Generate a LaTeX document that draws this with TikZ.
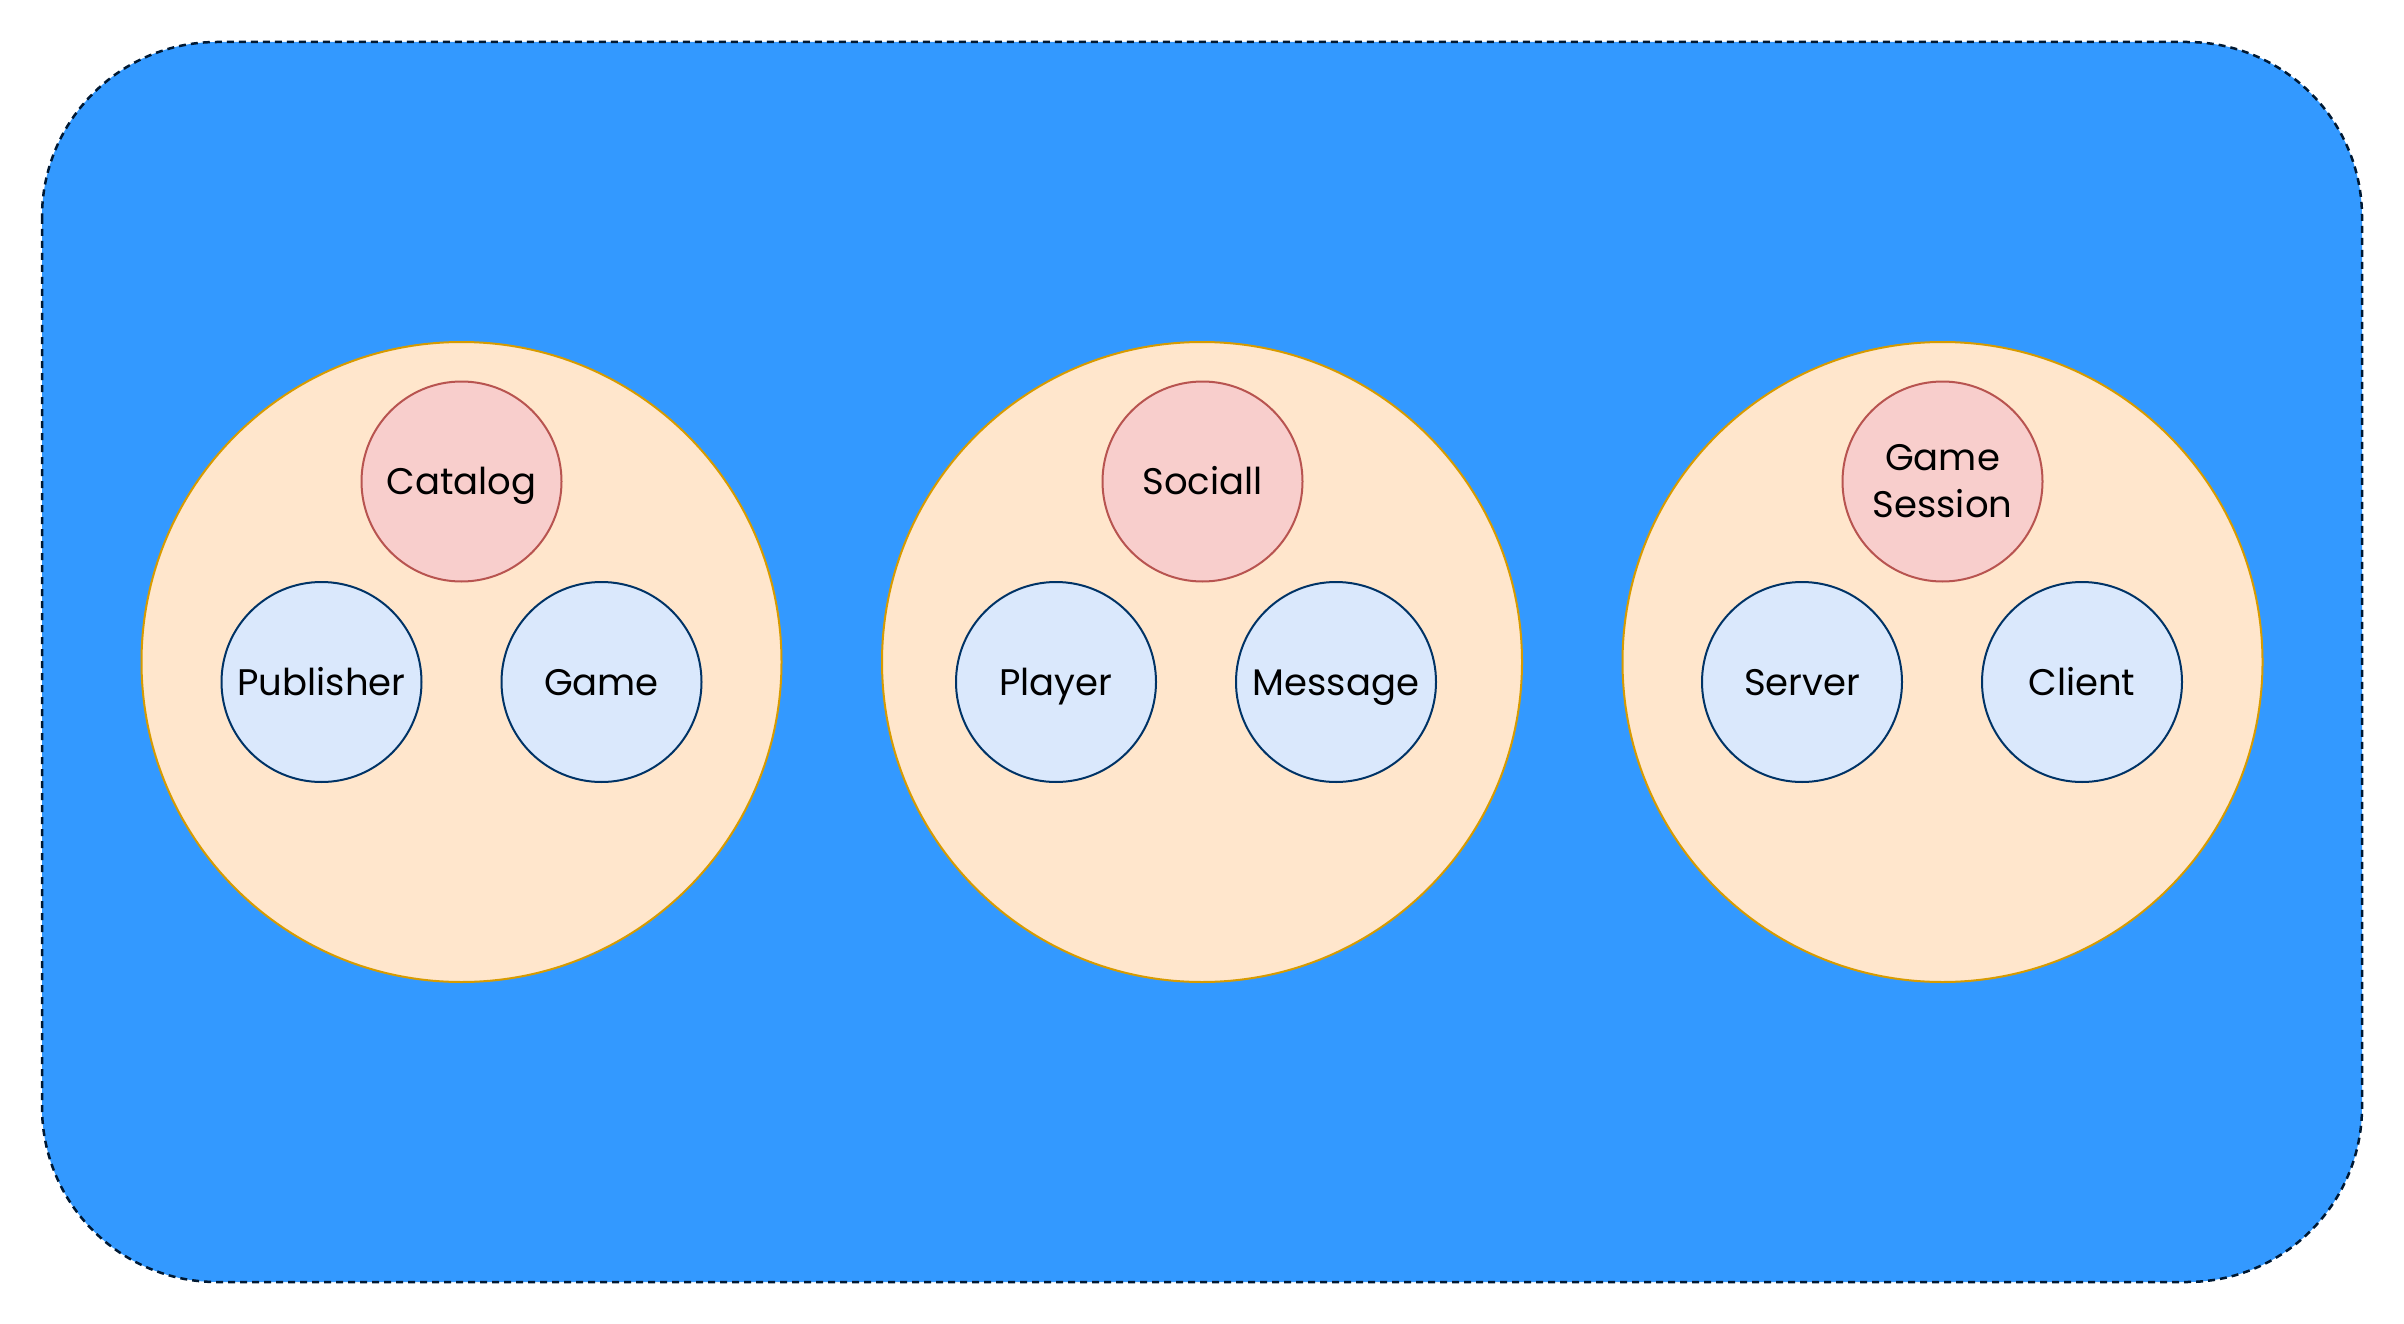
\documentclass[tikz,border=0pt]{standalone}
\usepackage{fontspec}
\setmainfont{Poppins}
\definecolor{bgblue}{HTML}{3399FF}
\definecolor{bordernavy}{HTML}{001933}
\definecolor{peachfill}{HTML}{FFE6CC}
\definecolor{peachline}{HTML}{D79B00}
\definecolor{redfill}{HTML}{F8CECC}
\definecolor{redline}{HTML}{B85450}
\definecolor{bluefill}{HTML}{DAE8FC}
\definecolor{blueline}{HTML}{003366}
\begin{document}
\begin{tikzpicture}[x=1pt,y=-1pt,
  groupcircle/.style={circle, minimum size=640pt, inner sep=0pt, outer sep=0pt, fill=peachfill, draw=peachline, line width=2pt},
  rootcircle/.style={circle, minimum size=200pt, inner sep=0pt, outer sep=0pt, fill=redfill, draw=redline, line width=2pt, font=\fontsize{37}{47}\selectfont, align=center},
  itemcircle/.style={circle, minimum size=200pt, inner sep=0pt, outer sep=0pt, fill=bluefill, draw=blueline, line width=2pt, font=\fontsize{37}{47}\selectfont, text height=26pt, text depth=0pt},
  onelabel/.style={text height=26pt, text depth=0pt}
]
\useasboundingbox (0,0) rectangle (2404,1324);
\draw[fill=bgblue, draw=bordernavy, line width=2.5pt, dash pattern=on 7pt off 5pt, rounded corners=175pt] (42,42) rectangle (2362,1282);

\node[groupcircle] (g1) at (461.5,662) {};
\node[groupcircle] (g2) at (1202,662) {};
\node[groupcircle] (g3) at (1942.5,662) {};

\node[rootcircle, onelabel] (catalog) at (461.5,481.5) {Catalog};
\node[itemcircle] (publisher) at (321.5,682) {Publisher};
\node[itemcircle] (game) at (601.5,682) {Game};

\node[rootcircle, onelabel] (social) at (1202.5,481.5) {Sociall};
\node[itemcircle] (player) at (1056,682) {Player};
\node[itemcircle] (message) at (1336,682) {Message};

\node[rootcircle] (session) at (1942.5,481.5) {Game\\Session};
\node[itemcircle] (server) at (1802,682) {Server};
\node[itemcircle] (client) at (2082,682) {Client};
\end{tikzpicture}
\end{document}
